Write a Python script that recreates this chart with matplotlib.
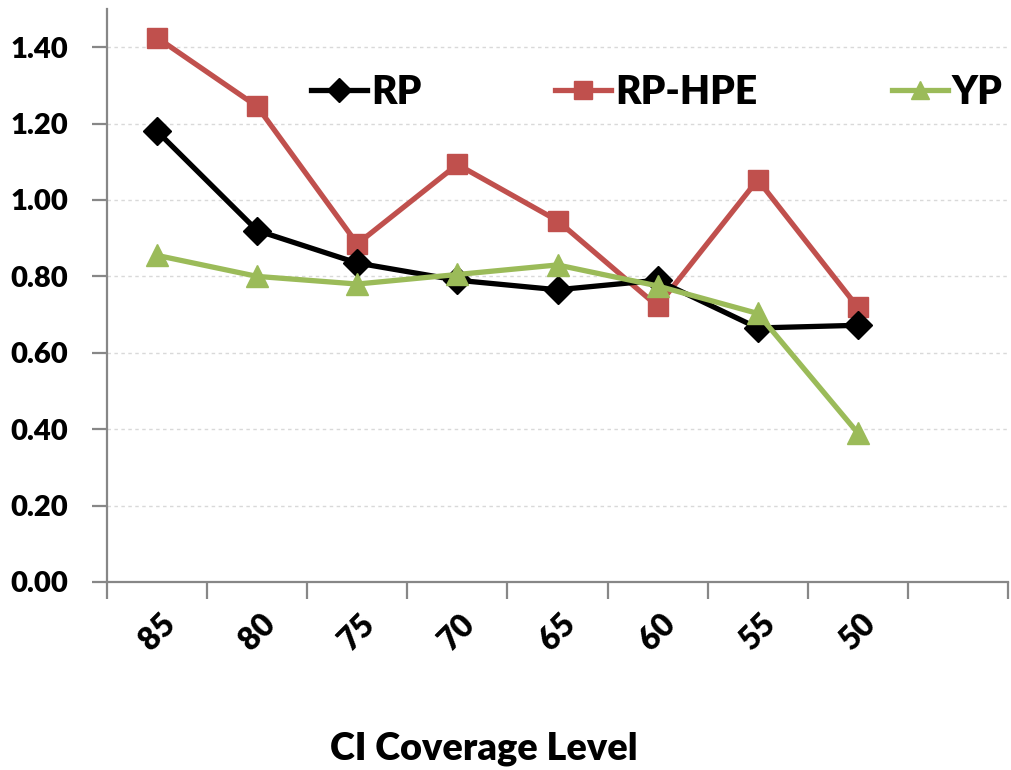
import matplotlib
matplotlib.use("Agg")
import matplotlib.pyplot as plt
from matplotlib.ticker import FixedLocator, NullFormatter, FixedFormatter

plt.rcParams['font.family'] = ['Lato', 'DejaVu Sans']
plt.rcParams['font.weight'] = 'heavy'

# CI coverage levels (a ninth, empty slot follows the last level)
coverage = ["85", "80", "75", "70", "65", "60", "55", "50"]
rp = [1.18, 0.92, 0.835, 0.79, 0.765, 0.79, 0.665, 0.672]
rp_hpe = [1.425, 1.245, 0.885, 1.093, 0.946, 0.722, 1.053, 0.719]
yp = [0.855, 0.80, 0.78, 0.805, 0.83, 0.775, 0.703, 0.39]
yticks = [0.0, 0.2, 0.4, 0.6, 0.8, 1.0, 1.2, 1.4]

n_slots = len(coverage) + 1
x = list(range(len(coverage)))

fig = plt.figure(figsize=(10.11, 7.7), dpi=100)
ax = fig.add_axes([107 / 1011, 1 - 582 / 770, 901 / 1011, 573 / 770])

axis_grey = "#878787"
ax.set_ylim(0, 1.5)
ax.set_xlim(-0.5, n_slots - 0.5)

# gridlines
for yv in yticks[1:]:
    ax.axhline(yv, color="#d9d9d9", lw=1.0, ls=(0, (2.5, 2.5)), zorder=0)

ax.plot(x, rp, color="black", lw=3.8, marker="D", ms=14, label="RP", zorder=3)
ax.plot(x, rp_hpe, color="#C0504D", lw=3.8, marker="s", ms=14.5, label="RP-HPE", zorder=2)
ax.plot(x, yp, color="#9BBB59", lw=3.8, marker="^", ms=16, label="YP", zorder=4)

for side in ("top", "right"):
    ax.spines[side].set_visible(False)
for side in ("left", "bottom"):
    ax.spines[side].set_color(axis_grey)
    ax.spines[side].set_linewidth(1.6)

ax.set_yticks(yticks)
ax.set_yticklabels([f"{v:.2f}" for v in yticks])
ax.tick_params(axis="y", length=11, width=1.6, color=axis_grey, labelsize=21, pad=17)

# category boundaries carry the tick marks, centres carry the labels
ax.xaxis.set_major_locator(FixedLocator([i - 0.5 for i in range(n_slots + 1)]))
ax.xaxis.set_major_formatter(NullFormatter())
ax.xaxis.set_minor_locator(FixedLocator(list(range(n_slots))))
ax.xaxis.set_minor_formatter(FixedFormatter(coverage + [""]))
ax.tick_params(axis="x", which="major", length=12, width=1.6, color=axis_grey)
ax.tick_params(axis="x", which="minor", length=0, labelsize=23, pad=36)
for lab in ax.get_xticklabels(minor=True):
    lab.set_rotation(45)
    lab.set_ha("center")
    lab.set_va("center")

fig.text(484 / 1011, 1 - 749 / 770, "CI Coverage Level", ha="center", va="center",
         fontsize=27.3)

leg = fig.legend(loc="center left", bbox_to_anchor=(311 / 1011, 1 - 92 / 770),
                 ncol=3, frameon=False, fontsize=28, handlelength=1.44,
                 handletextpad=0.1, columnspacing=3.45, borderpad=0,
                 borderaxespad=0, markerscale=0.85)

fig.savefig("out.png", dpi=100)
